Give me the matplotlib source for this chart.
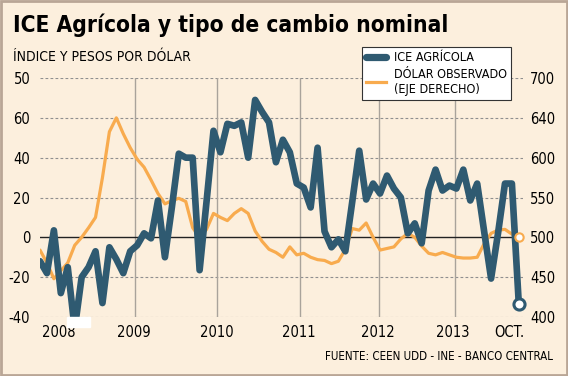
import matplotlib
matplotlib.use('Agg')
import matplotlib.pyplot as plt
import matplotlib.patches as mpatches
import numpy as np

plt.rcParams['font.family'] = ['DejaVu Sans']
plt.rcParams['font.stretch'] = 'condensed'

# monthly values (index 0 = first month of the series)
ice_agricola = [-12, -18, 3.5, -28, -15, -46, -20, -15, -7, -33,
                -5, -11, -18, -7, -4, 2, -0.5, 18.5, -10, 15,
                42, 40, 40, -16.5, 18, 53.5, 42.7, 57, 56, 57.7,
                40, 69, 63, 57.7, 37.7, 49, 42.7, 27, 25, 15,
                45, 3, -5, -1, -7, 18, 43.5, 19, 27, 22,
                31, 24.5, 20, 2, 7, -3, 23.5, 34, 23.5, 26,
                24.5, 34, 18.5, 27, 3, -20.7, 2, 27, 27, -33.7]

dolar_obs = [484, 468, 448, 458, 468, 490, 500, 512, 525, 575,
             626, 640, 624, 610, 598, 588, 572, 555, 542, 546,
             549, 545, 512, 500, 510, 530, 525, 521, 530, 536,
             530, 508, 495, 485, 481, 475, 488, 478, 480, 475,
             472, 471, 467, 470, 485, 511, 509, 518, 500, 484,
             486, 488, 498, 505, 500, 489, 480, 478, 481, 478,
             475, 474, 474, 475, 492, 505, 509, 510, 504, 500]

# left axis ticks (as printed) and right axis ticks, same positions
left_pos = [-40, -20, 0, 20, 40, 60, 80]
left_labels = ['-40', '-20', '0', '20', '40', '60', '50']
right_labels = [400, 450, 500, 550, 600, 640, 700]

year_lines = [13.7, 25.5, 37.5, 48.9, 59.8]
xlabel_pos = [2.7, 13.5, 25.5, 37.3, 48.7, 59.5, 67.6]
xlabels = ['2008', '2009', '2010', '2011', '2012', '2013', 'OCT.']

BG = '#fcefdd'
BLUE = '#2f5a71'
ORANGE = '#f8ab4e'

months = np.arange(len(ice_agricola))
# dollar on the (non-linear) right scale -> left-axis units
dolar_y = np.interp(dolar_obs, right_labels, left_pos)

fig = plt.figure(figsize=(5.68, 3.76), dpi=100, facecolor=BG)
ax = fig.add_axes([40/568, 1 - 317/376, 483/568, 239/376])
ax.set_facecolor(BG)
for s in ax.spines.values():
    s.set_visible(False)

ax.set_xlim(0, 69.6)
ax.set_ylim(-40, 80)

for v in left_pos:
    if v == 0:
        ax.axhline(0, color='#222222', lw=1.0, zorder=2)
    else:
        ax.axhline(v, color='#8f8f8f', lw=0.8, ls=(0, (2.5, 2)), zorder=1)
for x in year_lines:
    ax.axvline(x, color='#a9a39b', lw=1.0, zorder=1)

ax.plot(months, dolar_y, color=ORANGE, lw=2.3, solid_joinstyle='round',
        solid_capstyle='round', zorder=3)
ax.plot(months, ice_agricola, color=BLUE, lw=4.8, solid_joinstyle='round',
        solid_capstyle='round', zorder=4)
ax.plot(months[-1], dolar_y[-1], 'o', ms=6, mfc='white', mec=ORANGE, mew=1.5,
        zorder=5, clip_on=False)
ax.plot(months[-1], ice_agricola[-1], 'o', ms=8, mfc='white', mec=BLUE, mew=2.2,
        zorder=6, clip_on=False)

ax.add_patch(mpatches.Rectangle((27/483, -10/239), 23/483, 10/239,
                                transform=ax.transAxes, color='white',
                                clip_on=False, zorder=7))

ax.set_yticks(left_pos, left_labels, fontsize=10.5)
ax.set_xticks(xlabel_pos, xlabels, fontsize=10.5)
ax.tick_params(length=0, pad=6)
ax.tick_params(axis='y', pad=7)

ax2 = ax.twinx()
ax2.set_ylim(ax.get_ylim())
ax2.set_yticks(left_pos, [str(v) for v in right_labels], fontsize=10.5)
ax2.tick_params(length=0, pad=5)
for s in ax2.spines.values():
    s.set_visible(False)

handles = [plt.Line2D([], [], color=BLUE, lw=5.2, solid_capstyle='round'),
           plt.Line2D([], [], color=ORANGE, lw=2.3)]
leg = fig.legend(handles, ['ICE AGRÍCOLA', 'DÓLAR OBSERVADO\n(EJE DERECHO)'],
                 loc='upper left', bbox_to_anchor=(362/568, 1 - 47/376),
                 borderaxespad=0, frameon=True, fancybox=False, fontsize=9,
                 handlelength=1.6, handletextpad=0.6, labelspacing=0.25,
                 borderpad=0.35)
leg.get_frame().set_edgecolor('#333333')
leg.get_frame().set_linewidth(0.8)
leg.get_frame().set_facecolor('white')
leg.get_frame().set_alpha(1)
leg.set_zorder(10)

fig.text(13/568, 1 - 25/376, 'ICE Agrícola y tipo de cambio nominal',
         fontsize=16.3, fontweight='bold', va='center', ha='left')
fig.text(13/568, 1 - 57/376, 'ÍNDICE Y PESOS POR DÓLAR',
         fontsize=10, va='center', ha='left')
fig.text(553/568, 1 - 357/376, 'FUENTE: CEEN UDD - INE - BANCO CENTRAL',
         fontsize=8.3, va='center', ha='right')

fig.patches.append(mpatches.Rectangle((0.002, 0.003), 0.996, 0.994,
                                      transform=fig.transFigure, fill=False,
                                      edgecolor='#b9a696', lw=2))

fig.savefig('out.png', dpi=100, facecolor=BG)
